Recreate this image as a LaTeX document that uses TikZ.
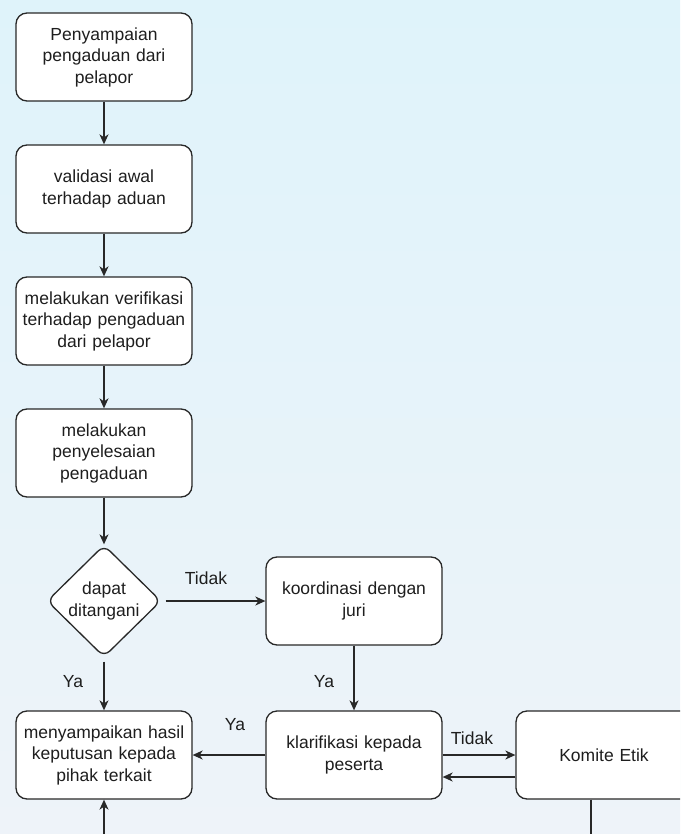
\documentclass[tikz,border=0pt]{standalone}
\usepackage{fontspec}
\setmainfont{Liberation Sans}
\usetikzlibrary{shapes.geometric,arrows.meta}
\definecolor{bgtop}{RGB}{223,243,250}
\definecolor{bgbot}{RGB}{238,243,249}
\definecolor{edge}{RGB}{40,40,40}
\definecolor{txt}{RGB}{30,30,30}
\tikzset{
  proc/.style={draw=edge, line width=1.3pt, fill=white, rounded corners=11pt,
    minimum width=176pt, minimum height=88pt, align=center, text=txt,
    font=\fontsize{17.5}{21.5}\selectfont, inner sep=2pt, text width=172pt},
  dec/.style={draw=edge, line width=1.3pt, fill=white, diamond, rounded corners=8pt,
    minimum width=114pt, minimum height=112pt, inner sep=0pt, align=center, text=txt,
    font=\fontsize{17.5}{21.5}\selectfont},
  conn/.style={draw=edge, line width=1.3pt, -{Stealth[length=10pt,width=9pt,inset=3pt]}},
  plain/.style={draw=edge, line width=1.3pt},
  lbl/.style={text=txt, font=\fontsize{17.5}{20}\selectfont, inner sep=0pt}
}
\begin{document}
\begin{tikzpicture}[x=1pt,y=-1pt]
\useasboundingbox (0,0) rectangle (680,834);
\shade[top color=bgtop, bottom color=bgbot] (0,0) rectangle (680,834);
\clip (0,0) rectangle (680,834);
\node[proc] (b1) at (104,57) {Penyampaian\\pengaduan dari\\pelapor};
\node[proc] (b2) at (104,189) {validasi awal\\terhadap aduan};
\node[proc] (b3) at (104,321) {melakukan verifikasi\\terhadap pengaduan\\dari pelapor};
\node[proc] (b4) at (104,453) {melakukan\\penyelesaian\\pengaduan};
\node[dec] (d) at (104,601) {dapat\\ditangani};
\node[proc] (k) at (354,601) {koordinasi dengan\\juri};
\node[proc] (m) at (104,755) {menyampaikan hasil\\keputusan kepada\\pihak terkait};
\node[proc] (kl) at (354,755) {klarifikasi kepada\\peserta};
\node[proc] (ke) at (604,755) {Komite Etik};
\coordinate (mb) at (104,840);
\coordinate (kb) at (591,840);
\draw[conn] (b1.south) -- (b2.north);
\draw[conn] (b2.south) -- (b3.north);
\draw[conn] (b3.south) -- (b4.north);
\draw[conn] (b4.south) -- (d.north);
\draw[conn] ([xshift=4pt]d.east) -- (k.west);
\draw[conn] ([yshift=-4pt]d.south) -- (m.north);
\draw[conn] (k.south) -- (kl.north);
\draw[conn] (kl.west) -- (m.east);
\draw[conn] (kl.east) -- (ke.west);
\draw[conn] ([yshift=-22pt]ke.west) -- ([yshift=-22pt]kl.east);
\draw[plain] (kb |- ke.south) -- (kb);
\draw[conn] (mb) -- (m.south);
\node[lbl] (l1) at (206,578) {Tidak};
\node[lbl] (l2) at (73,682) {Ya};
\node[lbl] (l3) at (324,682) {Ya};
\node[lbl] (l4) at (235,725) {Ya};
\node[lbl] (l5) at (472,738) {Tidak};
\end{tikzpicture}
\end{document}
